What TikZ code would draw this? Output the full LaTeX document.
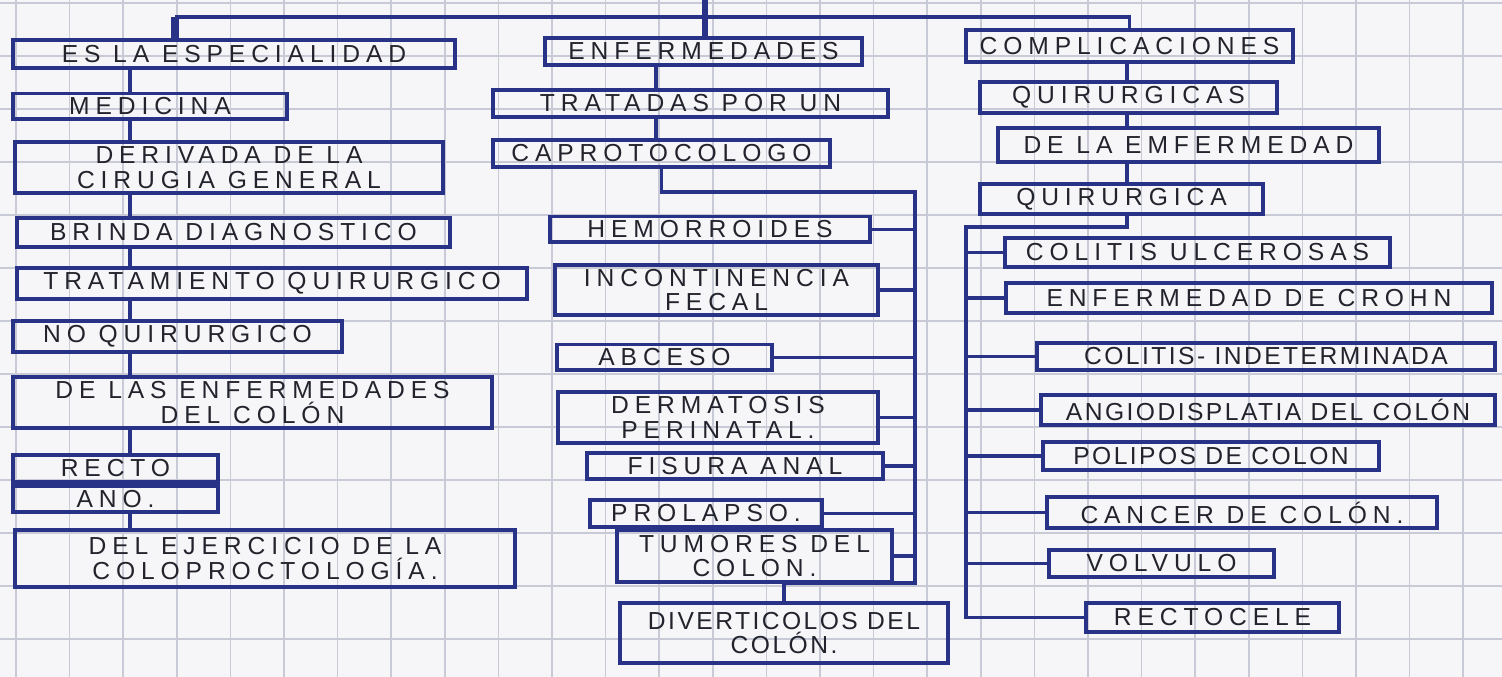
\documentclass[tikz,border=0pt]{standalone}
\usepackage{fontspec}
\newfontfamily\hand[LetterSpace=24]{Liberation Sans}
\newfontfamily\handtight[LetterSpace=10]{Liberation Sans}
\usepackage{xcolor}
\usepackage{tikz}
\usetikzlibrary{positioning, calc}
\definecolor{ink}{RGB}{40,50,135}
\definecolor{pencil}{RGB}{35,35,45}
\definecolor{paper}{RGB}{246,246,248}
\definecolor{gridline}{RGB}{200,202,214}
\tikzstyle{concept} = [rectangle, draw=ink, line width=1.1pt, inner xsep=1pt, inner ysep=1.2pt, align=center, text=pencil, font=\hand\fontsize{7}{7}\selectfont]
\tikzstyle{tight} = [font=\handtight\fontsize{7}{7}\selectfont]
\tikzstyle{link} = [draw=ink, line width=1.1pt]
\tikzset{dims/.style 2 args={minimum width=#1cm, minimum height=#2cm}}

\begin{document}
\begin{tikzpicture}[x=0.01cm, y=-0.01cm]
% Paper
\fill [paper] (0,0) rectangle (1502,677);
\useasboundingbox (0,0) rectangle (1502,677);
\foreach \i in {0,...,27} \draw [gridline, line width=0.5pt] (16+53.6*\i,0) -- (16+53.6*\i,677);
\foreach \i in {0,...,12} \draw [gridline, line width=0.5pt] (0,3+53*\i) -- (1502,3+53*\i);

% Left column
\node (esp) [concept, dims={4.42}{0.28}] at (234,54) {ES LA ESPECIALIDAD};
\node (med) [concept, dims={2.74}{0.23}] at (150,106.5) {MEDICINA};
\node (der) [concept, dims={4.28}{0.51}] at (229,167.5) {DERIVADA DE LA\\CIRUGIA GENERAL};
\node (brin) [concept, dims={4.33}{0.29}] at (233.5,232.5) {BRINDA DIAGNOSTICO};
\node (trat) [concept, dims={5.10}{0.27}] at (272,283.5) {TRATAMIENTO QUIRURGICO};
\node (noq) [concept, dims={3.29}{0.27}] at (177.5,336.5) {NO QUIRURGICO};
\node (enf) [concept, dims={4.79}{0.51}] at (252.5,402.5) {DE LAS ENFERMEDADES\\DEL COLÓN};
\node (rec) [concept, dims={2.05}{0.27}] at (115.5,468.5) {RECTO};
\node (ano) [concept, dims={2.05}{0.23}] at (115.5,499) {ANO.};
\node (ejer) [concept, dims={5.00}{0.57}] at (265,558.5) {DEL EJERCICIO DE LA\\COLOPROCTOLOGÍA.};

% Middle column
\node (enfm) [concept, dims={3.17}{0.27}] at (703.5,51.5) {ENFERMEDADES};
\node (tpu) [concept, dims={3.95}{0.27}] at (690.5,103.5) {TRATADAS POR UN};
\node (cap) [concept, dims={3.37}{0.27}] at (661.5,153.5) {CAPROTOCOLOGO};
\node (hem) [concept, dims={3.20}{0.25}] at (710,229.5) {HEMORROIDES};
\node (inc) [concept, dims={3.23}{0.50}] at (716.5,290) {INCONTINENCIA\\FECAL};
\node (abc) [concept, dims={2.15}{0.25}] at (664.5,357.5) {ABCESO};
\node (derm) [concept, dims={3.20}{0.47}] at (718,417.5) {DERMATOSIS\\PERINATAL.};
\node (fis) [concept, dims={2.96}{0.25}] at (735,466) {FISURA ANAL};
\node (pro) [concept, dims={2.32}{0.27}] at (706,513.5) {PROLAPSO.};
\node (tum) [concept, dims={2.75}{0.52}] at (754.5,556) {TUMORES DEL\\COLON.};
\node (div) [concept, tight, dims={3.28}{0.60}] at (784,633) {DIVERTICOLOS DEL\\COLÓN.};

% Right column
\node (comp) [concept, dims={3.27}{0.32}] at (1129.5,46) {COMPLICACIONES};
\node (qas) [concept, dims={2.97}{0.31}] at (1128.5,97.5) {QUIRURGICAS};
\node (dle) [concept, dims={3.81}{0.34}] at (1188.5,145) {DE LA EMFERMEDAD};
\node (qa) [concept, dims={2.83}{0.28}] at (1121.5,199) {QUIRURGICA};
\node (ulc) [concept, dims={3.85}{0.29}] at (1197.5,252.5) {COLITIS ULCEROSAS};
\node (cro) [concept, dims={4.86}{0.30}] at (1249,298) {ENFERMEDAD DE CROHN};
\node (ind) [concept, tight, dims={4.58}{0.27}] at (1266,356.5) {COLITIS- INDETERMINADA};
\node (ang) [concept, tight, dims={4.54}{0.26}] at (1268,410) {ANGIODISPLATIA DEL COLÓN};
\node (pol) [concept, tight, dims={3.36}{0.28}] at (1211,456) {POLIPOS DE COLON};
\node (can) [concept, dims={3.90}{0.31}] at (1242,512.5) {CANCER DE COLÓN.};
\node (vol) [concept, dims={2.25}{0.27}] at (1161.5,563.5) {VOLVULO};
\node (rcl) [concept, dims={2.53}{0.29}] at (1212.5,617.5) {RECTOCELE};

% Top bar
\coordinate (lstub) at (175,17);
\coordinate (stem) at (705,0);
\draw [link] (lstub) -- (comp.north |- lstub) -- (comp.north);
\draw [link, line width=2.2pt] (lstub) -- (esp.north -| lstub);
\draw [link, line width=1.8pt] (stem) -- (enfm.north -| stem);

% Left links
\coordinate (lx) at (130,0);
\foreach \a/\b in {esp/med, med/der, der/brin, brin/trat, trat/noq, noq/enf, enf/rec, rec/ano, ano/ejer}
  \draw [link] (\a.south -| lx) -- (\b.north -| lx);

% Middle links
\coordinate (mx) at (656,0);
\coordinate (mtop) at (915,192);
\coordinate (mbot) at (915,583);
\draw [link] (enfm.south -| mx) -- (tpu.north -| mx);
\draw [link] (tpu.south -| mx) -- (cap.north -| mx);
\draw [link] (cap.south) |- (mtop) -- (mbot) -| (div.north);
\foreach \n in {hem, inc, abc, derm, fis, pro, tum}
  \draw [link] (\n.east) -- (\n.east -| mtop);

% Right links
\coordinate (rx) at (1127,0);
\coordinate (rtop) at (966,227);
\foreach \a/\b in {comp/qas, qas/dle, dle/qa}
  \draw [link] (\a.south -| rx) -- (\b.north -| rx);
\draw [link] (qa.south -| rx) |- (rtop) |- (rcl.west);
\foreach \n in {ulc, cro, ind, ang, pol, can, vol}
  \draw [link] (\n.west) -- (\n.west -| rtop);
\end{tikzpicture}
\end{document}
